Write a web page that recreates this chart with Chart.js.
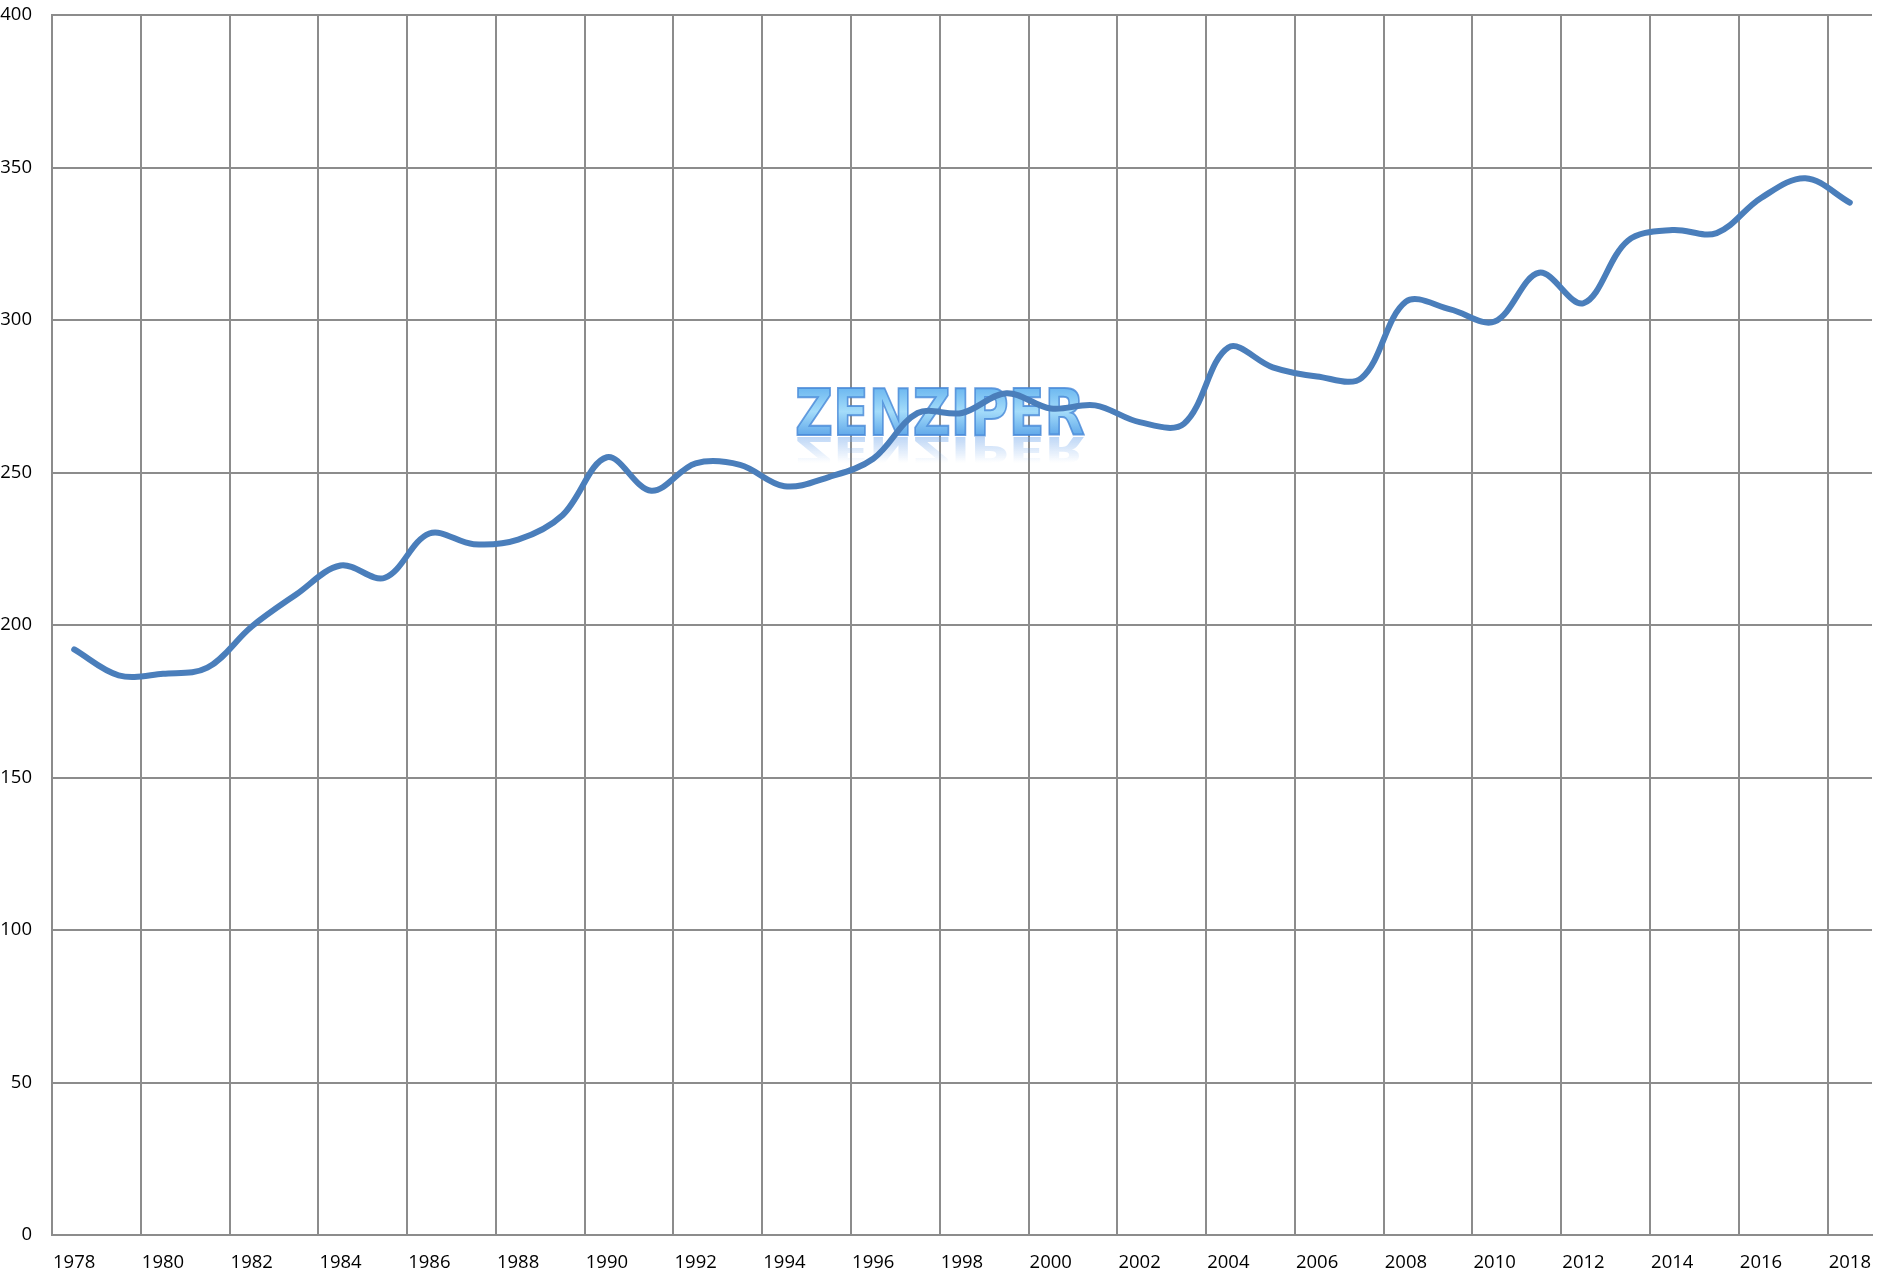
<!DOCTYPE html>
<html>
<head>
<meta charset="utf-8">
<script src="https://cdn.jsdelivr.net/npm/chart.js@4"></script>
<style>
  html, body { margin: 0; padding: 0; background: #ffffff; }
  #wrap { position: relative; width: 1883px; height: 1268px; }
</style>
</head>
<body>
<div id="wrap"><canvas id="chart"></canvas></div>
<script>
const years = ['1978','1979','1980','1981','1982','1983','1984','1985','1986','1987',
  '1988','1989','1990','1991','1992','1993','1994','1995','1996','1997',
  '1998','1999','2000','2001','2002','2003','2004','2005','2006','2007',
  '2008','2009','2010','2011','2012','2013','2014','2015','2016','2017','2018'];
const values = [192, 183.5, 184, 186, 199.5, 210, 219.5, 215.5, 230, 226.5,
  228, 236, 255, 244, 253, 252.5, 245.5, 248.5, 254.5, 269.5,
  269.5, 276, 271, 272, 266.5, 266, 291, 284.5, 281.5, 281,
  306, 303.5, 299.5, 315.5, 305.5, 326, 329.5, 328.5, 340, 346.5, 338.5];
const yMin = 0, yMax = 400, yStep = 50;
const watermarkText = 'ZENZIPER';

const GRID = '#8c8c8c';

const watermark = {
  id: 'watermark',
  beforeDatasetsDraw(chart) {
    const ctx = chart.ctx;
    const targetW = 290, capH = 47;
    const left = 795, baseY = 435;
    const fontSize = Math.round(capH / 0.73);
    ctx.save();
    ctx.font = 'bold ' + fontSize + 'px "DejaVu Sans"';
    ctx.textBaseline = 'alphabetic';
    ctx.textAlign = 'left';
    const w = ctx.measureText(watermarkText).width;
    const sx = targetW / w;
    // reflection
    ctx.save();
    ctx.translate(left, baseY + 2);
    ctx.scale(sx, -0.55);
    const rg = ctx.createLinearGradient(0, 0, 0, -capH);
    rg.addColorStop(0, 'rgba(110,165,235,0.45)');
    rg.addColorStop(1, 'rgba(110,165,235,0)');
    ctx.fillStyle = rg;
    ctx.fillText(watermarkText, 0, 0);
    ctx.restore();
    // main text
    ctx.save();
    ctx.translate(left, baseY);
    ctx.scale(sx, 1);
    const g = ctx.createLinearGradient(0, -capH, 0, 0);
    g.addColorStop(0, '#6db8f0');
    g.addColorStop(0.5, '#a4dcfa');
    g.addColorStop(1, '#62a9ea');
    ctx.fillStyle = g;
    ctx.fillText(watermarkText, 0, 0);
    ctx.lineWidth = 2;
    ctx.strokeStyle = 'rgba(70,135,215,0.8)';
    ctx.strokeText(watermarkText, 0, 0);
    ctx.restore();
    ctx.restore();
  }
};

new Chart(document.getElementById('chart'), {
  type: 'line',
  data: {
    labels: years,
    datasets: [{
      data: values,
      borderColor: '#4a7ebb',
      borderWidth: 6,
      pointRadius: 0,
      pointHoverRadius: 0,
      tension: 0.35,
      fill: false,
      borderCapStyle: 'round',
      borderJoinStyle: 'round'
    }]
  },
  options: {
    responsive: true,
    maintainAspectRatio: false,
    animation: false,
    events: [],
    layout: { padding: { top: 15, right: 11, left: 0, bottom: 0 } },
    plugins: { legend: { display: false }, tooltip: { enabled: false } },
    scales: {
      x: {
        type: 'category',
        offset: true,
        grid: {
          offset: true,
          drawTicks: false,
          lineWidth: 2,
          color: (c) => (c.index !== undefined && c.index % 2 === 0) ? GRID : 'rgba(0,0,0,0)'
        },
        border: { display: true, color: GRID, width: 2 },
        ticks: {
          autoSkip: false,
          maxRotation: 0,
          padding: 17,
          color: '#000',
          font: { family: '"Open Sans"', size: 18.5 },
          callback: function (v, i) { return i % 2 === 0 ? years[i] : ''; }
        },
        afterFit: (s) => { s.height = 33; s.paddingLeft = 0; s.paddingRight = 0; }
      },
      y: {
        min: yMin,
        max: yMax,
        ticks: {
          stepSize: yStep,
          padding: 20,
          color: '#000',
          font: { family: '"Open Sans"', size: 18.5 }
        },
        grid: { drawTicks: false, lineWidth: 2, color: GRID },
        border: { display: true, color: GRID, width: 2 },
        afterFit: (s) => { s.width = 52; s.paddingTop = 0; s.paddingBottom = 0; }
      }
    }
  },
  plugins: [watermark]
});
</script>
</body>
</html>
